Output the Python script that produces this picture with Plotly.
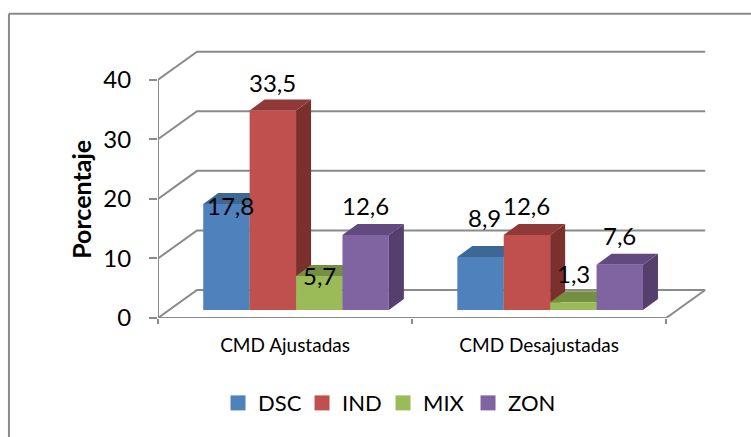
import plotly.graph_objects as go

categories = ["CMD Ajustadas", "CMD Desajustadas"]
series_names = ["DSC", "IND", "MIX", "ZON"]
dsc_values = [17.8, 8.9]
ind_values = [33.5, 12.6]
mix_values = [5.7, 1.3]
zon_values = [12.6, 7.6]
y_ticks = [0, 10, 20, 30, 40]

front_colors = ["#4F81BD", "#C0504D", "#9BBB59", "#8064A2"]
top_colors = ["#3D6795", "#8F3A38", "#748E42", "#62497F"]
side_colors = ["#345A82", "#7C302E", "#637A38", "#553F6D"]
legend_widths = [39, 36, 40, 60]
line_color = "#8A8A8A"
font = "Lato, Carlito, Calibri, sans-serif"

# Scale of the front plane, and the plot box extended to hold the back wall.
FIG_W, FIG_H = 751, 437
L, B = 158, 318
px_x = 254.0
px_y = 5.95
x_max, y_max = 2.2, 46
R = L + x_max * px_x
T = B - y_max * px_y
wall_dx, wall_dy = 39 / px_x, 28 / px_y      # back wall shift
floor_dx, floor_dy = 11 / px_x, 8 / px_y     # bar front plane shift
depth_dx, depth_dy = 15 / px_x, 11 / px_y    # bar depth
bar_w = 46.4 / px_x

all_values = [dsc_values, ind_values, mix_values, zon_values]
fig = go.Figure()


def poly(xs, ys, color):
    fig.add_trace(go.Scatter(
        x=xs + xs[:1], y=ys + ys[:1], mode="lines", fill="toself", fillcolor=color,
        line=dict(width=0), hoverinfo="skip", showlegend=False,
    ))


def wire(xs, ys):
    fig.add_trace(go.Scatter(
        x=xs, y=ys, mode="lines", line=dict(color=line_color, width=2),
        hoverinfo="skip", showlegend=False,
    ))


# Back wall gridlines, floor outline and the two front axis lines.
for t in y_ticks:
    wire([0, wall_dx, 2 + wall_dx], [t, t + wall_dy, t + wall_dy])
wire([2, 2 + wall_dx], [0, wall_dy])
wire([0, 2], [0, 0])
wire([0, 0], [0, 40])

# Columns, painted left to right so each front hides the side of its neighbour.
for c in range(len(categories)):
    for s, values in enumerate(all_values):
        x0 = c + 0.5 + floor_dx + (s - 2) * bar_w
        x1 = x0 + bar_w
        y0 = floor_dy
        y1 = floor_dy + values[c]
        poly([x1, x1 + depth_dx, x1 + depth_dx, x1],
             [y0, y0 + depth_dy, y1 + depth_dy, y1], side_colors[s])
        poly([x0, x1, x1 + depth_dx, x0 + depth_dx],
             [y1, y1, y1 + depth_dy, y1 + depth_dy], top_colors[s])
        poly([x0, x1, x1, x0], [y0, y0, y1, y1], front_colors[s])

# Legend entries.
for s, name in enumerate(series_names):
    fig.add_trace(go.Scatter(
        x=[None], y=[None], mode="markers", name=name, legendwidth=legend_widths[s],
        marker=dict(symbol="square", size=15, color=front_colors[s]),
    ))

# Value labels, with the per-label nudges of the hand-placed originals.
label_shift = [
    [(4, -2), (4, 39)],
    [(0, 28), (0, 29)],
    [(0, 1), (0, 29)],
    [(0, 29), (0, 29)],
]
annotations = []
for c in range(len(categories)):
    for s, values in enumerate(all_values):
        dx, dy = label_shift[s][c]
        annotations.append(dict(
            x=c + 0.5 + floor_dx + (s - 1.5) * bar_w, y=floor_dy + values[c],
            xref="x", yref="y", text=f"{values[c]:.1f}".replace(".", ","),
            showarrow=False, xanchor="center", yanchor="middle",
            xshift=dx, yshift=dy, font=dict(family=font, size=24, color="#000000"),
        ))


def paper_x(p):
    return (p - L) / (R - L)


def paper_y(p):
    return (B - p) / (B - T)


# Vertical axis title, centred on the 0-40 span of the front plane.
annotations.append(dict(
    x=paper_x(81), y=20, xref="paper", yref="y", text="<b>Porcentaje</b>",
    textangle=-90, showarrow=False, xanchor="center", yanchor="middle",
    font=dict(family=font, size=25, color="#000000"),
))

# Outer frame: only the top and left edges show.
frame = dict(type="line", xref="paper", yref="paper", line=dict(color=line_color, width=2))
shapes = [
    dict(frame, x0=paper_x(9), x1=paper_x(FIG_W), y0=paper_y(14), y1=paper_y(14)),
    dict(frame, x0=paper_x(9), x1=paper_x(9), y0=paper_y(14), y1=paper_y(FIG_H)),
]

fig.update_layout(
    width=FIG_W, height=FIG_H,
    margin=dict(l=L, r=FIG_W - R, t=T, b=FIG_H - B, pad=0),
    paper_bgcolor="white", plot_bgcolor="rgba(0,0,0,0)",
    font=dict(family=font, color="#000000"),
    xaxis=dict(
        range=[0, x_max], showgrid=False, zeroline=False, showline=False,
        tickmode="array", tickvals=[0.5, 1.5], ticktext=categories, ticks="",
        tickfont=dict(size=19), ticklabelstandoff=14,
        minor=dict(tickmode="array", tickvals=[0, 1, 2], ticks="outside",
                   ticklen=5, tickwidth=2, tickcolor=line_color),
    ),
    yaxis=dict(
        range=[0, y_max], showgrid=False, zeroline=False, showline=False,
        tickmode="array", tickvals=y_ticks, ticks="outside", ticklen=8,
        tickwidth=2, tickcolor=line_color, tickfont=dict(size=24),
        ticklabelstandoff=13,
    ),
    legend=dict(
        orientation="h", x=paper_x(218), y=paper_y(403), xanchor="left", yanchor="middle",
        font=dict(size=22), itemsizing="trace",
        bgcolor="rgba(0,0,0,0)",
    ),
    annotations=annotations,
    shapes=shapes,
)

fig.write_html("out.html", config={"displayModeBar": False})
